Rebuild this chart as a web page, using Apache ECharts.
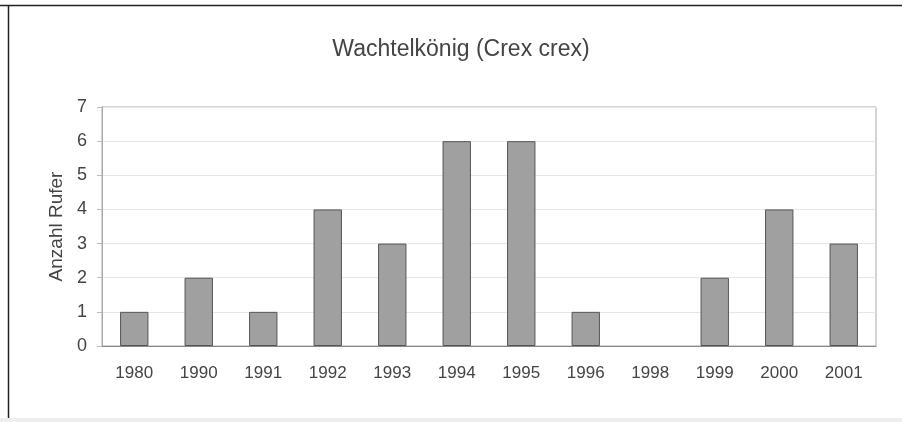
<!DOCTYPE html>
<html><head><meta charset="utf-8">
<script src="https://cdn.jsdelivr.net/npm/echarts@6/dist/echarts.min.js"></script>
<style>html,body{margin:0;padding:0;background:#fff}#c{width:902px;height:422px}</style>
</head><body><div id="c"></div>
<script>
const categories = ['1980','1990','1991','1992','1993','1994','1995','1996','1998','1999','2000','2001'];
const rufer = [1,2,1,4,3,6,6,1,0,2,4,3];
const yTicks = [0,1,2,3,4,5,6,7];

const FONT = 'Liberation Sans, Arial, sans-serif';
const chart = echarts.init(document.getElementById('c'), null, {renderer:'canvas'});
chart.setOption({
  backgroundColor:'#fff',
  animation:false,
  title:{text:'Wachtelkönig (Crex crex)', left:456, textAlign:'center', top:33,
    textStyle:{fontFamily:FONT, fontSize:23, fontWeight:'normal', color:'#444'}},
  graphic:[
    {type:'line', shape:{x1:0,y1:5.5,x2:902,y2:5.5}, style:{stroke:'#222', lineWidth:1.5}},
    {type:'line', shape:{x1:8.5,y1:5,x2:8.5,y2:418}, style:{stroke:'#222', lineWidth:1.5}},
    {type:'rect', shape:{x:0,y:418,width:902,height:4}, style:{fill:'#eeeeee'}}
  ],
  grid:{left:102, right:26, top:107, bottom:76, show:true, borderColor:'#aaa', borderWidth:1},
  xAxis:{type:'category', data:categories,
    axisLine:{lineStyle:{color:'#888'}},
    axisTick:{show:false},
    axisLabel:{color:'#444', fontSize:17, margin:19, fontFamily:FONT}},
  yAxis:{type:'value', min:yTicks[0], max:yTicks[yTicks.length-1], interval:1,
    name:'Anzahl Rufer', nameLocation:'middle', nameGap:36,
    nameTextStyle:{color:'#444', fontSize:19, fontFamily:FONT},
    axisLine:{show:true, lineStyle:{color:'#aaa'}},
    axisTick:{show:true, length:5, lineStyle:{color:'#bbb'}},
    axisLabel:{color:'#444', fontSize:18, margin:15, fontFamily:FONT},
    splitLine:{lineStyle:{color:'#e6e6e6'}}},
  series:[{type:'bar', barWidth:'44%',
    data:rufer.map(v => ({value:v, itemStyle:{borderWidth: v === 0 ? 0 : 1}})),
    itemStyle:{color:'#a0a0a0', borderColor:'#555', borderWidth:1}}]
});
</script></body></html>
